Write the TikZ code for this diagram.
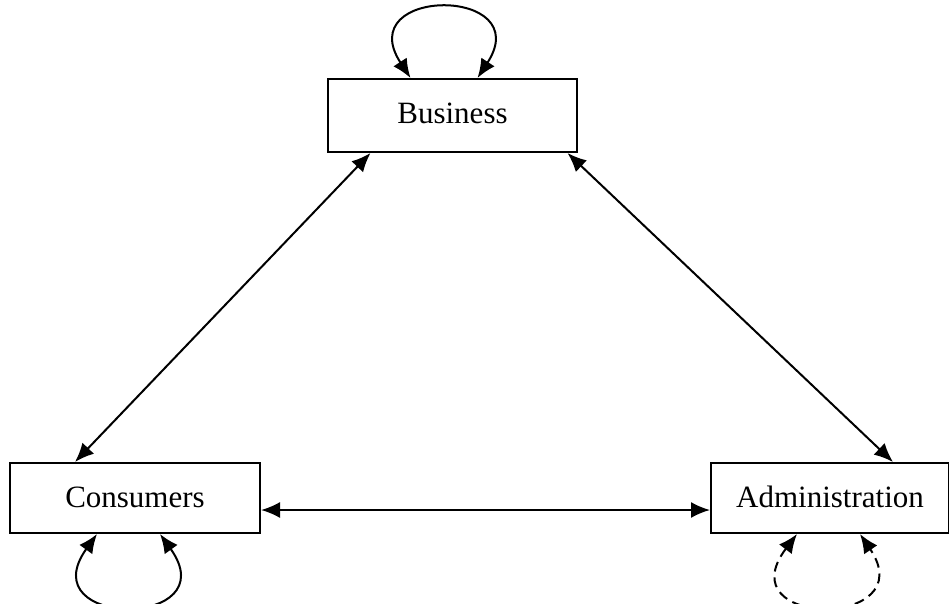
\documentclass[tikz,border=0pt]{standalone}
\usepackage{fontspec}
\setmainfont{Liberation Serif}
\usetikzlibrary{arrows.meta}
\begin{document}
\begin{tikzpicture}[x=1pt, y=-1pt,
  box/.style={draw, line width=2pt, inner sep=0pt, font=\fontsize{31}{36}\selectfont},
  link/.style={line width=2pt, {Latex[length=19pt,width=16pt]}-{Latex[length=19pt,width=16pt]}},
  loopback/.style={link}]
%definitions
\useasboundingbox (0,0) rectangle (949,604);

\node[box, minimum width=249, minimum height=73] (bus) at (452.5,115.5) {\raisebox{4pt}{Business}};
\node[box, minimum width=250, minimum height=70] (con) at (135,498) {\raisebox{2pt}{Consumers}};
\node[box, minimum width=238, minimum height=70] (adm) at (830,498) {\raisebox{2pt}{Administration}};

% links between the three
\draw[link] ([xshift=-82]bus.south) -- ([xshift=-60]con.north);
\draw[link] ([xshift=115]bus.south) -- ([xshift=63]adm.north);
\draw[link] ([yshift=-12]con.east) -- ([yshift=-12]adm.west);

% loops
\draw[loopback] ([xshift=-42]bus.north) .. controls +(-60,-92) and +(60,-92) .. ([xshift=25]bus.north);
\draw[loopback] ([xshift=-38]con.south) .. controls +(-68,95) and +(68,95) .. ([xshift=25]con.south);
\draw[loopback, dashed, dash pattern=on 10pt off 6pt] ([xshift=-33]adm.south) .. controls +(-72,95) and +(64,95) .. ([xshift=30]adm.south);
\end{tikzpicture}
\end{document}
